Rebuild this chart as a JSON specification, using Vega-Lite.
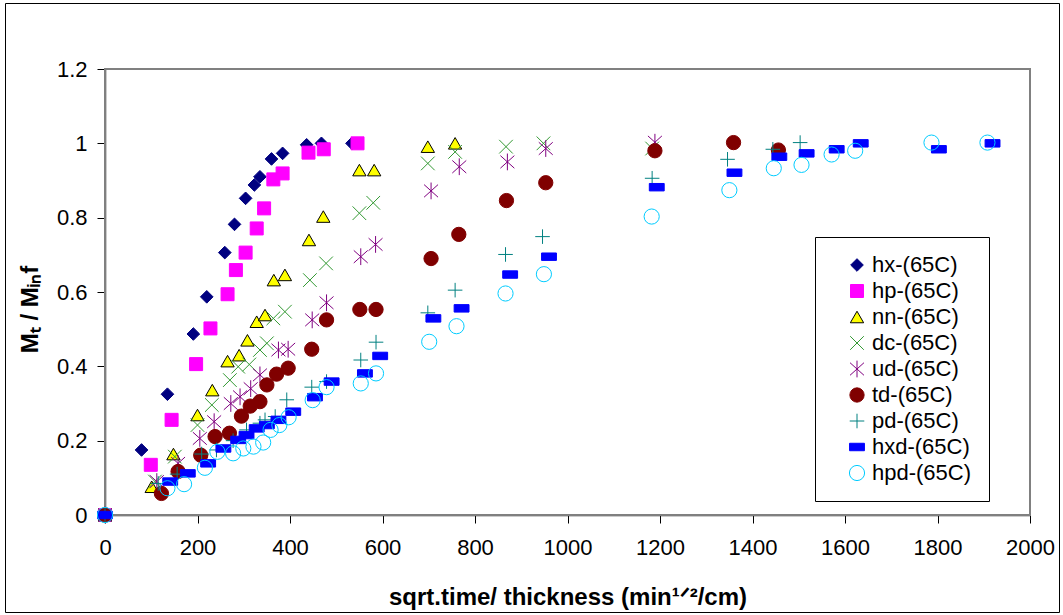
{
  "$schema": "https://vega.github.io/schema/vega-lite/v6.json",
  "width": 1054,
  "height": 609,
  "autosize": {"type": "none"},
  "padding": {"left": 5, "top": 3, "right": 4, "bottom": 3},
  "background": "white",
  "config": {
    "view": {"stroke": "black", "strokeWidth": 1},
    "font": "Liberation Sans",
    "axis": {
      "grid": false,
      "labelFlush": false,
      "labelFont": "Liberation Sans",
      "labelFontSize": 22,
      "labelColor": "black",
      "tickColor": "black",
      "tickSize": 8,
      "tickWidth": 1,
      "domainColor": "#333333",
      "domainWidth": 1.5,
      "titleFont": "Liberation Sans",
      "titleFontSize": 24,
      "titleFontWeight": "bold",
      "titleColor": "black"
    },
    "legend": {
      "labelFont": "Liberation Sans",
      "labelFontSize": 22,
      "labelColor": "black"
    }
  },
  "data": {
    "values": [
      {"s": "hx-(65C)", "x": 0, "y": 0},
      {"s": "hx-(65C)", "x": 79, "y": 0.175},
      {"s": "hx-(65C)", "x": 135, "y": 0.325},
      {"s": "hx-(65C)", "x": 191, "y": 0.487},
      {"s": "hx-(65C)", "x": 220, "y": 0.587},
      {"s": "hx-(65C)", "x": 259, "y": 0.706},
      {"s": "hx-(65C)", "x": 280, "y": 0.782},
      {"s": "hx-(65C)", "x": 304, "y": 0.852},
      {"s": "hx-(65C)", "x": 323, "y": 0.888},
      {"s": "hx-(65C)", "x": 335, "y": 0.91},
      {"s": "hx-(65C)", "x": 360, "y": 0.958},
      {"s": "hx-(65C)", "x": 384, "y": 0.973},
      {"s": "hx-(65C)", "x": 436, "y": 0.996},
      {"s": "hx-(65C)", "x": 468, "y": 1.0},
      {"s": "hx-(65C)", "x": 534, "y": 1.0},

      {"s": "hp-(65C)", "x": 0, "y": 0},
      {"s": "hp-(65C)", "x": 99, "y": 0.135},
      {"s": "hp-(65C)", "x": 144, "y": 0.256},
      {"s": "hp-(65C)", "x": 197, "y": 0.406},
      {"s": "hp-(65C)", "x": 228, "y": 0.502},
      {"s": "hp-(65C)", "x": 265, "y": 0.594},
      {"s": "hp-(65C)", "x": 283, "y": 0.659},
      {"s": "hp-(65C)", "x": 304, "y": 0.706},
      {"s": "hp-(65C)", "x": 328, "y": 0.771},
      {"s": "hp-(65C)", "x": 344, "y": 0.825},
      {"s": "hp-(65C)", "x": 364, "y": 0.903},
      {"s": "hp-(65C)", "x": 384, "y": 0.919},
      {"s": "hp-(65C)", "x": 440, "y": 0.975},
      {"s": "hp-(65C)", "x": 473, "y": 0.984},
      {"s": "hp-(65C)", "x": 546, "y": 1.0},

      {"s": "nn-(65C)", "x": 0, "y": 0},
      {"s": "nn-(65C)", "x": 101, "y": 0.076},
      {"s": "nn-(65C)", "x": 148, "y": 0.164},
      {"s": "nn-(65C)", "x": 200, "y": 0.269},
      {"s": "nn-(65C)", "x": 232, "y": 0.336},
      {"s": "nn-(65C)", "x": 265, "y": 0.414},
      {"s": "nn-(65C)", "x": 290, "y": 0.43},
      {"s": "nn-(65C)", "x": 308, "y": 0.47},
      {"s": "nn-(65C)", "x": 328, "y": 0.52},
      {"s": "nn-(65C)", "x": 346, "y": 0.538},
      {"s": "nn-(65C)", "x": 365, "y": 0.632},
      {"s": "nn-(65C)", "x": 389, "y": 0.646},
      {"s": "nn-(65C)", "x": 441, "y": 0.74},
      {"s": "nn-(65C)", "x": 472, "y": 0.803},
      {"s": "nn-(65C)", "x": 550, "y": 0.928},
      {"s": "nn-(65C)", "x": 582, "y": 0.928},
      {"s": "nn-(65C)", "x": 698, "y": 0.991},
      {"s": "nn-(65C)", "x": 757, "y": 1.0},

      {"s": "dc-(65C)", "x": 0, "y": 0},
      {"s": "dc-(65C)", "x": 108, "y": 0.09},
      {"s": "dc-(65C)", "x": 151, "y": 0.157},
      {"s": "dc-(65C)", "x": 200, "y": 0.242},
      {"s": "dc-(65C)", "x": 231, "y": 0.296},
      {"s": "dc-(65C)", "x": 270, "y": 0.363},
      {"s": "dc-(65C)", "x": 288, "y": 0.399},
      {"s": "dc-(65C)", "x": 312, "y": 0.405},
      {"s": "dc-(65C)", "x": 335, "y": 0.444},
      {"s": "dc-(65C)", "x": 350, "y": 0.462},
      {"s": "dc-(65C)", "x": 364, "y": 0.529},
      {"s": "dc-(65C)", "x": 389, "y": 0.547},
      {"s": "dc-(65C)", "x": 443, "y": 0.632},
      {"s": "dc-(65C)", "x": 478, "y": 0.677},
      {"s": "dc-(65C)", "x": 550, "y": 0.812},
      {"s": "dc-(65C)", "x": 580, "y": 0.84},
      {"s": "dc-(65C)", "x": 698, "y": 0.946},
      {"s": "dc-(65C)", "x": 757, "y": 0.977},
      {"s": "dc-(65C)", "x": 867, "y": 0.991},
      {"s": "dc-(65C)", "x": 948, "y": 1.0},
      {"s": "dc-(65C)", "x": 1183, "y": 0.986},

      {"s": "ud-(65C)", "x": 0, "y": 0},
      {"s": "ud-(65C)", "x": 112, "y": 0.09},
      {"s": "ud-(65C)", "x": 158, "y": 0.139},
      {"s": "ud-(65C)", "x": 205, "y": 0.206},
      {"s": "ud-(65C)", "x": 236, "y": 0.251},
      {"s": "ud-(65C)", "x": 272, "y": 0.3},
      {"s": "ud-(65C)", "x": 292, "y": 0.318},
      {"s": "ud-(65C)", "x": 315, "y": 0.34},
      {"s": "ud-(65C)", "x": 335, "y": 0.377},
      {"s": "ud-(65C)", "x": 375, "y": 0.444},
      {"s": "ud-(65C)", "x": 396, "y": 0.446},
      {"s": "ud-(65C)", "x": 448, "y": 0.525},
      {"s": "ud-(65C)", "x": 479, "y": 0.571},
      {"s": "ud-(65C)", "x": 553, "y": 0.695},
      {"s": "ud-(65C)", "x": 585, "y": 0.728},
      {"s": "ud-(65C)", "x": 705, "y": 0.872},
      {"s": "ud-(65C)", "x": 766, "y": 0.937},
      {"s": "ud-(65C)", "x": 870, "y": 0.95},
      {"s": "ud-(65C)", "x": 953, "y": 0.986},
      {"s": "ud-(65C)", "x": 1189, "y": 1.003},

      {"s": "td-(65C)", "x": 0, "y": 0},
      {"s": "td-(65C)", "x": 122, "y": 0.058},
      {"s": "td-(65C)", "x": 158, "y": 0.117},
      {"s": "td-(65C)", "x": 207, "y": 0.161},
      {"s": "td-(65C)", "x": 238, "y": 0.211},
      {"s": "td-(65C)", "x": 269, "y": 0.22},
      {"s": "td-(65C)", "x": 295, "y": 0.266},
      {"s": "td-(65C)", "x": 314, "y": 0.293},
      {"s": "td-(65C)", "x": 335, "y": 0.305},
      {"s": "td-(65C)", "x": 350, "y": 0.35},
      {"s": "td-(65C)", "x": 371, "y": 0.379},
      {"s": "td-(65C)", "x": 396, "y": 0.395},
      {"s": "td-(65C)", "x": 447, "y": 0.446},
      {"s": "td-(65C)", "x": 479, "y": 0.525},
      {"s": "td-(65C)", "x": 551, "y": 0.553},
      {"s": "td-(65C)", "x": 586, "y": 0.553},
      {"s": "td-(65C)", "x": 705, "y": 0.69},
      {"s": "td-(65C)", "x": 765, "y": 0.755},
      {"s": "td-(65C)", "x": 868, "y": 0.846},
      {"s": "td-(65C)", "x": 953, "y": 0.894},
      {"s": "td-(65C)", "x": 1189, "y": 0.98},
      {"s": "td-(65C)", "x": 1359, "y": 1.002},
      {"s": "td-(65C)", "x": 1456, "y": 0.982},

      {"s": "pd-(65C)", "x": 0, "y": 0},
      {"s": "pd-(65C)", "x": 115, "y": 0.085},
      {"s": "pd-(65C)", "x": 156, "y": 0.11},
      {"s": "pd-(65C)", "x": 209, "y": 0.164},
      {"s": "pd-(65C)", "x": 241, "y": 0.175},
      {"s": "pd-(65C)", "x": 277, "y": 0.2},
      {"s": "pd-(65C)", "x": 306, "y": 0.229},
      {"s": "pd-(65C)", "x": 335, "y": 0.247},
      {"s": "pd-(65C)", "x": 346, "y": 0.256},
      {"s": "pd-(65C)", "x": 368, "y": 0.265},
      {"s": "pd-(65C)", "x": 393, "y": 0.31},
      {"s": "pd-(65C)", "x": 447, "y": 0.344},
      {"s": "pd-(65C)", "x": 479, "y": 0.359},
      {"s": "pd-(65C)", "x": 553, "y": 0.417},
      {"s": "pd-(65C)", "x": 586, "y": 0.465},
      {"s": "pd-(65C)", "x": 698, "y": 0.544},
      {"s": "pd-(65C)", "x": 757, "y": 0.605},
      {"s": "pd-(65C)", "x": 866, "y": 0.701},
      {"s": "pd-(65C)", "x": 946, "y": 0.749},
      {"s": "pd-(65C)", "x": 1183, "y": 0.906},
      {"s": "pd-(65C)", "x": 1346, "y": 0.957},
      {"s": "pd-(65C)", "x": 1444, "y": 0.984},
      {"s": "pd-(65C)", "x": 1503, "y": 1.002},

      {"s": "hxd-(65C)", "x": 0, "y": 0},
      {"s": "hxd-(65C)", "x": 141, "y": 0.09},
      {"s": "hxd-(65C)", "x": 179, "y": 0.112},
      {"s": "hxd-(65C)", "x": 223, "y": 0.139},
      {"s": "hxd-(65C)", "x": 256, "y": 0.179},
      {"s": "hxd-(65C)", "x": 288, "y": 0.202},
      {"s": "hxd-(65C)", "x": 306, "y": 0.215},
      {"s": "hxd-(65C)", "x": 328, "y": 0.233},
      {"s": "hxd-(65C)", "x": 350, "y": 0.242},
      {"s": "hxd-(65C)", "x": 375, "y": 0.256},
      {"s": "hxd-(65C)", "x": 407, "y": 0.278},
      {"s": "hxd-(65C)", "x": 454, "y": 0.317},
      {"s": "hxd-(65C)", "x": 490, "y": 0.359},
      {"s": "hxd-(65C)", "x": 562, "y": 0.381},
      {"s": "hxd-(65C)", "x": 595, "y": 0.428},
      {"s": "hxd-(65C)", "x": 710, "y": 0.529},
      {"s": "hxd-(65C)", "x": 771, "y": 0.556},
      {"s": "hxd-(65C)", "x": 876, "y": 0.647},
      {"s": "hxd-(65C)", "x": 960, "y": 0.695},
      {"s": "hxd-(65C)", "x": 1193, "y": 0.882},
      {"s": "hxd-(65C)", "x": 1361, "y": 0.921},
      {"s": "hxd-(65C)", "x": 1458, "y": 0.964},
      {"s": "hxd-(65C)", "x": 1517, "y": 0.973},
      {"s": "hxd-(65C)", "x": 1582, "y": 0.984},
      {"s": "hxd-(65C)", "x": 1634, "y": 1.0},
      {"s": "hxd-(65C)", "x": 1803, "y": 0.984},
      {"s": "hxd-(65C)", "x": 1919, "y": 1.0},

      {"s": "hpd-(65C)", "x": 0, "y": 0},
      {"s": "hpd-(65C)", "x": 135, "y": 0.072},
      {"s": "hpd-(65C)", "x": 171, "y": 0.083},
      {"s": "hpd-(65C)", "x": 216, "y": 0.127},
      {"s": "hpd-(65C)", "x": 243, "y": 0.17},
      {"s": "hpd-(65C)", "x": 277, "y": 0.166},
      {"s": "hpd-(65C)", "x": 299, "y": 0.179},
      {"s": "hpd-(65C)", "x": 321, "y": 0.184},
      {"s": "hpd-(65C)", "x": 342, "y": 0.195},
      {"s": "hpd-(65C)", "x": 358, "y": 0.229},
      {"s": "hpd-(65C)", "x": 377, "y": 0.242},
      {"s": "hpd-(65C)", "x": 397, "y": 0.263},
      {"s": "hpd-(65C)", "x": 449, "y": 0.309},
      {"s": "hpd-(65C)", "x": 479, "y": 0.344},
      {"s": "hpd-(65C)", "x": 553, "y": 0.354},
      {"s": "hpd-(65C)", "x": 586, "y": 0.381},
      {"s": "hpd-(65C)", "x": 701, "y": 0.466},
      {"s": "hpd-(65C)", "x": 760, "y": 0.508},
      {"s": "hpd-(65C)", "x": 866, "y": 0.596},
      {"s": "hpd-(65C)", "x": 949, "y": 0.648},
      {"s": "hpd-(65C)", "x": 1182, "y": 0.803},
      {"s": "hpd-(65C)", "x": 1350, "y": 0.874},
      {"s": "hpd-(65C)", "x": 1446, "y": 0.933},
      {"s": "hpd-(65C)", "x": 1506, "y": 0.942},
      {"s": "hpd-(65C)", "x": 1571, "y": 0.97},
      {"s": "hpd-(65C)", "x": 1622, "y": 0.98},
      {"s": "hpd-(65C)", "x": 1787, "y": 1.002},
      {"s": "hpd-(65C)", "x": 1908, "y": 1.002}
    ]
  },
  "layer": [
    {
      "description": "grey plot-area border spanning the full axis domains",
      "mark": {"type": "rect", "fill": null, "stroke": "#808080", "strokeWidth": 2},
      "encoding": {
        "x": {"datum": 0, "type": "quantitative"},
        "x2": {"datum": 2000},
        "y": {"datum": 0, "type": "quantitative"},
        "y2": {"datum": 1.2}
      }
    },
    {
      "mark": {"type": "point", "opacity": 1},
      "encoding": {
        "x": {
          "field": "x",
          "type": "quantitative",
          "scale": {"domain": [0, 2000], "range": [100, 1025], "nice": false},
          "axis": {
            "title": "sqrt.time/ thickness (min¹ᐟ²/cm)",
            "values": [0, 200, 400, 600, 800, 1000, 1200, 1400, 1600, 1800, 2000],
            "format": "d",
            "offset": -97,
            "labelPadding": 14,
            "titlePadding": 27
          }
        },
        "y": {
          "field": "y",
          "type": "quantitative",
          "scale": {"domain": [0, 1.2], "range": [512, 66], "nice": false},
          "axis": {
            "title": "Mₜ / Mᵢₙf",
            "values": [0, 0.2, 0.4, 0.6, 0.8, 1, 1.2],
            "format": "~g",
            "offset": -100,
            "labelPadding": 10,
            "titlePadding": 14,
            "titleY": 306
          }
        },
        "shape": {
          "field": "s",
          "type": "nominal",
          "scale": {
            "domain": ["hx-(65C)", "hp-(65C)", "nn-(65C)", "dc-(65C)", "ud-(65C)", "td-(65C)", "pd-(65C)", "hxd-(65C)", "hpd-(65C)"],
            "range": ["diamond", "square", "triangle-up", "M-1,-1L1,1M-1,1L1,-1", "M-1,-0.9L1,0.9M-1,0.9L1,-0.9M0,-1.2L0,1.2", "circle", "M-1,0L1,0M0,-1L0,1", "M-1,-0.5L1,-0.5L1,0.5L-1,0.5Z", "circle"]
          },
          "legend": {
            "title": null,
            "orient": "none",
            "legendX": 810,
            "legendY": 234,
            "padding": 17,
            "rowPadding": 4,
            "symbolOffset": 14,
            "labelOffset": 4,
            "strokeColor": "black",
            "fillColor": "white"
          }
        },
        "fill": {
          "field": "s",
          "type": "nominal",
          "scale": {
            "domain": ["hx-(65C)", "hp-(65C)", "nn-(65C)", "dc-(65C)", "ud-(65C)", "td-(65C)", "pd-(65C)", "hxd-(65C)", "hpd-(65C)"],
            "range": ["#000080", "#FF00FF", "#FFFF00", "transparent", "transparent", "#800000", "transparent", "#0000FF", "transparent"]
          }
        },
        "stroke": {
          "field": "s",
          "type": "nominal",
          "scale": {
            "domain": ["hx-(65C)", "hp-(65C)", "nn-(65C)", "dc-(65C)", "ud-(65C)", "td-(65C)", "pd-(65C)", "hxd-(65C)", "hpd-(65C)"],
            "range": ["#000080", "#FF00FF", "#000000", "#339933", "#800080", "#800000", "#008080", "#0000FF", "#00CCFF"]
          }
        },
        "strokeWidth": {
          "field": "s",
          "type": "nominal",
          "scale": {
            "domain": ["hx-(65C)", "hp-(65C)", "nn-(65C)", "dc-(65C)", "ud-(65C)", "td-(65C)", "pd-(65C)", "hxd-(65C)", "hpd-(65C)"],
            "range": [1, 1, 2, 1.5, 1.5, 1, 1.6, 1, 1.8]
          }
        },
        "size": {
          "field": "s",
          "type": "nominal",
          "scale": {
            "domain": ["hx-(65C)", "hp-(65C)", "nn-(65C)", "dc-(65C)", "ud-(65C)", "td-(65C)", "pd-(65C)", "hxd-(65C)", "hpd-(65C)"],
            "range": [160, 230, 190, 220, 210, 250, 240, 140, 190]
          }
        }
      }
    }
  ]
}
